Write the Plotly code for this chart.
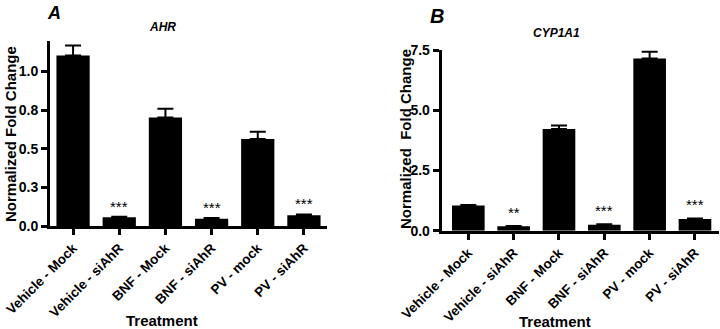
import plotly.graph_objects as go

categories = ["Vehicle - Mock", "Vehicle - siAhR", "BNF - Mock", "BNF - siAhR", "PV - mock", "PV - siAhR"]

ahr_values = [1.104, 0.056, 0.703, 0.047, 0.563, 0.069]
ahr_errors = [0.065, 0.004, 0.057, 0.004, 0.047, 0.006]
ahr_stars = ["", "***", "", "***", "", "***"]

cyp_values = [1.05, 0.18, 4.22, 0.25, 7.15, 0.49]
cyp_errors = [0.02, 0.02, 0.15, 0.02, 0.28, 0.02]
cyp_stars = ["", "**", "", "***", "", "***"]

ahr_tickvals = [0, 0.25, 0.5, 0.75, 1.0]
ahr_ticktext = ["0.0", "0.3", "0.5", "0.8", "1.0"]
cyp_tickvals = [0, 2.5, 5.0, 7.5]
cyp_ticktext = ["0.0", "2.5", "5.0", "7.5"]

FONT = "Liberation Sans, Arial, sans-serif"
W, H = 720, 329


def fx(x):
    return x / W


def fy(y):
    return 1 - y / H


fig = go.Figure()

fig.add_trace(go.Bar(
    x=list(range(len(categories))), y=ahr_values, width=0.72,
    marker=dict(color="black", line=dict(width=0)),
    error_y=dict(type="data", symmetric=False, array=ahr_errors,
                 arrayminus=[0] * len(ahr_errors), color="black", thickness=2, width=8),
    xaxis="x", yaxis="y", showlegend=False))

fig.add_trace(go.Bar(
    x=list(range(len(categories))), y=cyp_values, width=0.72,
    marker=dict(color="black", line=dict(width=0)),
    error_y=dict(type="data", symmetric=False, array=cyp_errors,
                 arrayminus=[0] * len(cyp_errors), color="black", thickness=2, width=8),
    xaxis="x2", yaxis="y2", showlegend=False))

axis_common = dict(showgrid=False, zeroline=False, showline=True, linecolor="black",
                   linewidth=3, ticks="outside", ticklen=6, tickwidth=2.5, tickcolor="black",
                   automargin=False)

xtf = dict(size=13.5, weight="bold", family=FONT, color="black")
ytf = dict(size=14, weight="bold", family=FONT, color="black")

fig.update_layout(
    width=W, height=H, plot_bgcolor="white", paper_bgcolor="white",
    margin=dict(l=0, r=0, t=0, b=0),
    font=dict(family=FONT, color="black"),
    xaxis=dict(domain=[fx(50), fx(327)], range=[-0.5, 5.5],
               tickvals=list(range(len(categories))), ticktext=categories,
               tickangle=-45, tickfont=xtf, anchor="y", **axis_common),
    yaxis=dict(domain=[fy(226), fy(40.7)], range=[0, 1.2],
               tickvals=ahr_tickvals, ticktext=ahr_ticktext,
               tickfont=ytf, anchor="x", **axis_common),
    xaxis2=dict(domain=[fx(441.7), fx(719)], range=[-0.587, 5.53],
                tickvals=list(range(len(categories))), ticktext=categories,
                tickangle=-45, tickfont=xtf, anchor="y2", **axis_common),
    yaxis2=dict(domain=[fy(230.7), fy(50)], range=[0, 7.5],
                tickvals=cyp_tickvals, ticktext=cyp_ticktext,
                tickfont=ytf, anchor="x2", **axis_common),
)

annotations = []
for i, s in enumerate(ahr_stars):
    if s:
        annotations.append(dict(x=i, y=ahr_values[i] + ahr_errors[i], xref="x", yref="y",
                                text=s, showarrow=False, yanchor="bottom", yshift=0,
                                font=dict(size=15, family=FONT, color="black")))
for i, s in enumerate(cyp_stars):
    if s:
        annotations.append(dict(x=i, y=cyp_values[i] + cyp_errors[i], xref="x2", yref="y2",
                                text=s, showarrow=False, yanchor="bottom", yshift=3,
                                font=dict(size=15, family=FONT, color="black")))


def pa(text, x, y, size, angle=0, italic=False):
    t = f"<b>{text}</b>"
    if italic:
        t = f"<i>{t}</i>"
    return dict(text=t, x=fx(x), y=fy(y), xref="paper", yref="paper",
                showarrow=False, xanchor="center", yanchor="middle", textangle=angle,
                font=dict(size=size, family=FONT, color="black"))


annotations += [
    pa("A", 54, 13, 18, italic=True),
    pa("AHR", 162, 27, 12, italic=True),
    pa("B", 437, 16, 20, italic=True),
    pa("CYP1A1", 556, 33, 12, italic=True),
    pa("Normalized Fold Change", 10, 134, 15, angle=-90),
    pa("Normalized\u00a0 Fold Change", 405, 139, 15, angle=-90),
    pa("Treatment", 162, 320, 15),
    pa("Treatment", 555, 321, 15),
]
fig.update_layout(annotations=annotations)

fig.write_html("out.html", config={"displayModeBar": False},
               post_script="document.body.style.margin='0px';")
